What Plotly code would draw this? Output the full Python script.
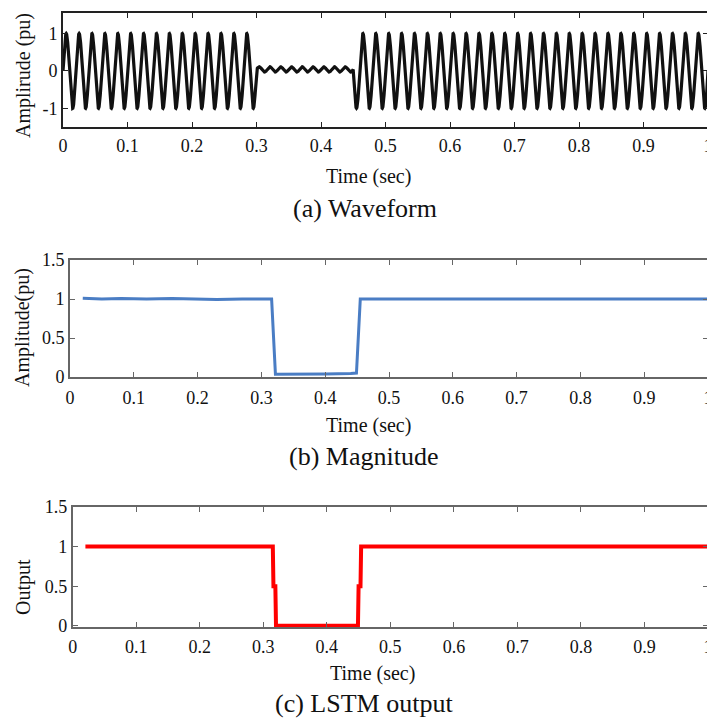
import numpy as np
import plotly.graph_objects as go

# page body adds an 8px margin, so the figure is offset by that much
OFF = 8
W, H = 715 - OFF, 718 - OFF

# ---------------- data ----------------
x_tick_vals = [0, 0.1, 0.2, 0.3, 0.4, 0.5, 0.6, 0.7, 0.8, 0.9, 1.0]
x_tick_text = ["0", "0.1", "0.2", "0.3", "0.4", "0.5", "0.6", "0.7", "0.8", "0.9", "1"]

wave_y_tick_vals = [-1, 0, 1]
wave_y_tick_text = ["-1", "0", "1"]
mag_y_tick_vals = [0, 0.5, 1, 1.5]
mag_y_tick_text = ["0", "0.5", "1", "1.5"]

# (a) waveform: segments (start, end, amplitude, offset, frequency)
wave_seg_start = [0.00, 0.30, 0.45]
wave_seg_end = [0.30, 0.45, 1.00]
wave_seg_amp = [1.00, 0.07, 1.00]
wave_seg_offset = [0.00, 0.04, 0.00]
wave_seg_freq = [50, 60, 50]

# (b) magnitude
mag_t = [0.02, 0.05, 0.08, 0.12, 0.16, 0.19, 0.23, 0.27, 0.30, 0.316, 0.322, 0.36,
         0.40, 0.44, 0.449, 0.455, 0.50, 0.55, 0.60, 0.65, 0.69, 0.73, 0.77, 0.81,
         0.85, 0.89, 0.93, 0.97, 1.00]
mag_v = [1.01, 1.00, 1.005, 1.00, 1.005, 1.00, 0.995, 1.00, 1.00, 1.00, 0.035, 0.035,
         0.04, 0.045, 0.05, 1.00, 1.00, 1.00, 1.00, 1.00, 0.995, 1.00, 0.995, 1.00,
         1.00, 0.995, 1.00, 1.00, 1.00]

# (c) LSTM output
lstm_t = [0.02, 0.315, 0.316, 0.319, 0.320, 0.449, 0.450, 0.453, 0.454, 1.00]
lstm_v = [1, 1, 0.5, 0.5, 0, 0, 0.5, 0.5, 1, 1]

# ---------------- build waveform from segment table ----------------
wave_t = []
wave_v = []
for s, e, a, o, f in zip(wave_seg_start, wave_seg_end, wave_seg_amp, wave_seg_offset, wave_seg_freq):
    tt = np.linspace(s, e, int((e - s) * 4000) + 1)
    if s == 0.30:
        vv = o + a * np.sin(2 * np.pi * f * (tt - s))
    else:
        vv = o + a * np.sin(2 * np.pi * f * tt)
    wave_t.extend(tt.tolist())
    wave_v.extend(vv.tolist())

FONT = "Liberation Serif"

def px_x(p):
    return (p - OFF) / W

def px_y(p):
    return 1 - (p - OFF) / H

fig = go.Figure()

fig.add_trace(go.Scatter(x=wave_t, y=wave_v, mode="lines",
                         line=dict(color="#111111", width=3.2),
                         xaxis="x", yaxis="y", showlegend=False))
fig.add_trace(go.Scatter(x=mag_t, y=mag_v, mode="lines",
                         line=dict(color="#4A7DC4", width=3),
                         xaxis="x2", yaxis="y2", showlegend=False))
fig.add_trace(go.Scatter(x=lstm_t, y=lstm_v, mode="lines",
                         line=dict(color="#FF0000", width=4),
                         xaxis="x3", yaxis="y3", showlegend=False))

def xaxis_cfg(dom, anchor, color, standoff):
    return dict(domain=dom, anchor=anchor, range=[0, 1], tickvals=x_tick_vals,
                ticktext=x_tick_text, ticks="inside", ticklen=5, tickwidth=1.2,
                tickcolor=color, showline=True, linecolor=color, linewidth=1.6,
                mirror="ticks", showgrid=False, zeroline=False, automargin=False,
                ticklabelstandoff=standoff,
                tickfont=dict(family=FONT, size=18, color="#111111"))

def yaxis_cfg(dom, anchor, color, rng, tv, tt):
    return dict(domain=dom, anchor=anchor, range=rng, tickvals=tv, ticktext=tt,
                ticks="inside", ticklen=5, tickwidth=1.2, tickcolor=color,
                showline=True, linecolor=color, linewidth=1.6, mirror="ticks",
                showgrid=False, zeroline=False, automargin=False,
                tickfont=dict(family=FONT, size=18, color="#111111"))

dom_a_x = [px_x(63), px_x(708)]
dom_a_y = [px_y(127), px_y(13)]
dom_b_x = [px_x(70), px_x(708)]
dom_b_y = [px_y(377), px_y(260)]
dom_c_x = [px_x(72.7), px_x(708)]
dom_c_y = [px_y(627), px_y(507)]

fig.update_layout(
    width=W, height=H,
    margin=dict(l=0, r=0, t=0, b=0, autoexpand=False),
    paper_bgcolor="white", plot_bgcolor="white",
    xaxis=xaxis_cfg(dom_a_x, "y", "#222222", 2),
    yaxis=yaxis_cfg(dom_a_y, "x", "#222222", [-1.5, 1.55], wave_y_tick_vals, wave_y_tick_text),
    xaxis2=xaxis_cfg(dom_b_x, "y2", "#666666", 4),
    yaxis2=yaxis_cfg(dom_b_y, "x2", "#666666", [0, 1.5], mag_y_tick_vals, mag_y_tick_text),
    xaxis3=xaxis_cfg(dom_c_x, "y3", "#666666", 3),
    yaxis3=yaxis_cfg(dom_c_y, "x3", "#666666", [-0.015, 1.5], mag_y_tick_vals, mag_y_tick_text),
)

def ann(text, x, y, size, angle=0):
    return dict(text=text, x=px_x(x), y=px_y(y), xref="paper", yref="paper",
                showarrow=False, textangle=angle, xanchor="center", yanchor="middle",
                font=dict(family=FONT, size=size, color="#111111"))

fig.update_layout(annotations=[
    ann("Time (sec)", 368, 176, 20),
    ann("(a) Waveform", 365, 208, 26),
    ann("Amplirude (pu)", 24, 76, 20, -90),
    ann("Time (sec)", 368, 425, 20),
    ann("(b) Magnitude", 363, 456, 26),
    ann("Amplitude(pu)", 22, 328, 20, -90),
    ann("Time (sec)", 373, 673, 20),
    ann("(c) LSTM output", 364, 703, 26),
    ann("Output", 23, 587, 20, -90),
])

fig.write_html("out.html")
